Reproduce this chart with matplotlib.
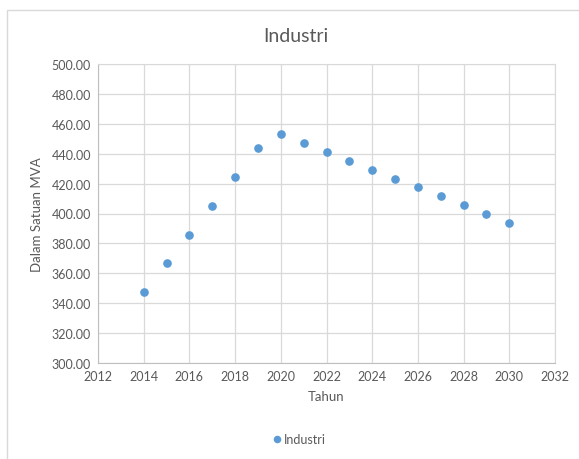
import matplotlib
matplotlib.use("Agg")
import matplotlib.pyplot as plt
from matplotlib.patches import Rectangle

years = [2014, 2015, 2016, 2017, 2018, 2019, 2020, 2021, 2022, 2023, 2024, 2025, 2026, 2027, 2028, 2029, 2030]
values = [347.5, 366.9, 385.6, 405.0, 424.4, 443.8, 453.2, 447.2, 441.1, 435.0, 429.1, 423.0, 417.7, 411.7, 405.7, 399.7, 393.7]
series_name = "Industri"
x_ticks = list(range(2012, 2033, 2))
y_ticks = list(range(300, 501, 20))

plt.rcParams['font.family'] = ['Lato', 'DejaVu Sans']
fig = plt.figure(figsize=(5.79, 4.60), dpi=100)
fig.patches.append(Rectangle((7/579, -0.01), 1.0, 1 - 11/460 + 0.01, transform=fig.transFigure,
                             fill=False, edgecolor='#d9d9d9', linewidth=1.0))
ax = fig.add_axes([98/579, 1 - 364/460, (555 - 98)/579, (364 - 65)/460])

ax.plot(years, values, linestyle='none', marker='o', markersize=5.2, color='#5b9bd5', label=series_name)
ax.set_xlim(2012, 2032)
ax.set_ylim(300, 500)
ax.set_xticks(x_ticks)
ax.set_yticks(y_ticks)
ax.set_yticklabels([f"{v:.2f}" for v in y_ticks])
ax.grid(True, color='#d9d9d9', linewidth=0.9)
ax.set_axisbelow(True)
for s in ['top', 'right']:
    ax.spines[s].set_color('#d9d9d9')
for s in ['left', 'bottom']:
    ax.spines[s].set_color('#bfbfbf')
ax.tick_params(length=0, labelsize=9, labelcolor='#595959', pad=5)
ax.set_xlabel("Tahun", fontsize=9.5, color='#595959', labelpad=6)
ax.set_ylabel("Dalam Satuan MVA", fontsize=9.5, color='#595959', labelpad=6)
fig.text(296/579, 1 - 36/460, "Industri", ha='center', va='center', fontsize=14, color='#595959')
leg = fig.legend(loc='center', bbox_to_anchor=(300/579, 1 - 440/460), frameon=False,
                 fontsize=9, handlelength=0.5, handletextpad=0.3, markerscale=0.85)
for t in leg.get_texts():
    t.set_color('#595959')
fig.savefig("out.png", dpi=100)
